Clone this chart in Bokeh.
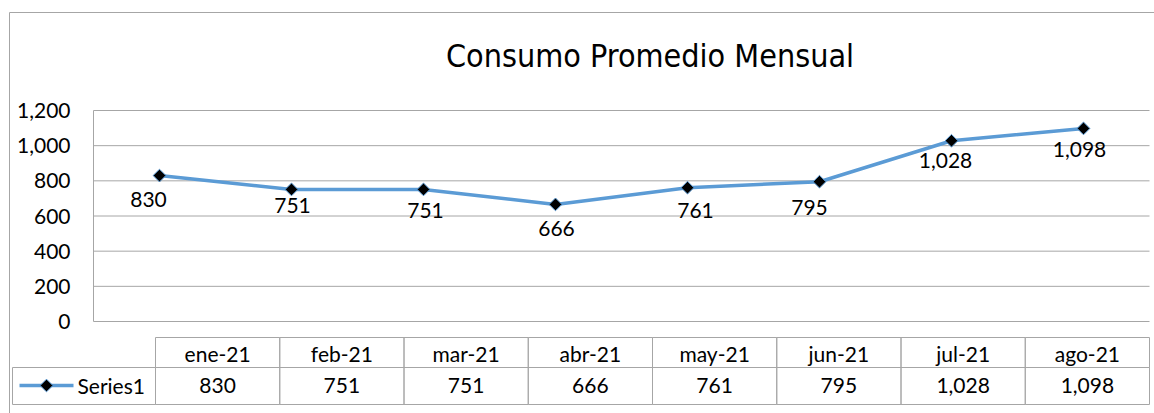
import numpy as np
from bokeh.plotting import figure
from bokeh.models import Range1d
from bokeh.core.properties import value
from bokeh.embed import file_html
from bokeh.resources import INLINE

# ---------------- data ----------------
months = ["ene-21", "feb-21", "mar-21", "abr-21", "may-21", "jun-21", "jul-21", "ago-21"]
values = [830, 751, 751, 666, 761, 795, 1028, 1098]
y_ticks = [0, 200, 400, 600, 800, 1000, 1200]
series_name = "Series1"
title_text = "Consumo Promedio Mensual"

# label placement (styling offsets in px, as moved in the original)
label_dx = [-11, 1, 2, 1, 8, -10, -6, -4]
label_dy = [24, 16, 21, 24, 23, 26, 20, 21]

# ---------------- layout (pixels) ----------------
W, H = 1154, 413
PA_L, PA_R, PA_T, PA_B = 93, 1149, 110, 321     # plot area
YMAX = 1200
N = len(months)

LINE_BLUE = "#5B9BD5"
GRID = "#A6A6A6"
FONT = value("Lato")
FS = value("21px")


def fx(px):
    return -0.5 + (px - PA_L) / (PA_R - PA_L) * N


def fy(py):
    return (PA_B - py) / (PA_B - PA_T) * YMAX


p = figure(width=W, height=H, x_range=Range1d(fx(0), fx(W)), y_range=Range1d(fy(H), fy(0)),
           output_backend="svg", toolbar_location=None, x_axis_location=None, y_axis_location=None,
           min_border=0)
p.outline_line_color = None
p.background_fill_color = "white"
p.border_fill_color = "white"
p.grid.visible = False

# outer chart border
p.quad(left=[fx(9)], right=[fx(1170)], top=[fy(12)], bottom=[fy(430)],
       fill_alpha=0, line_color=GRID, line_width=1)

# horizontal gridlines at tick values + left axis line
p.segment(x0=[fx(PA_L)] * len(y_ticks), x1=[fx(PA_R)] * len(y_ticks), y0=y_ticks, y1=y_ticks,
          line_color=GRID, line_width=1)
p.segment(x0=[fx(PA_L)], x1=[fx(PA_L)], y0=[y_ticks[0]], y1=[y_ticks[-1]],
          line_color=GRID, line_width=1)

# y tick labels
p.text(x=[fx(70)] * len(y_ticks), y=y_ticks, text=[f"{t:,}" for t in y_ticks],
       text_align="right", text_baseline="middle", text_font=FONT, text_font_size=FS,
       text_color="black")

# title
p.text(x=[fx(649.5)], y=[fy(55)], text=[title_text], text_align="center",
       text_baseline="middle", text_font=value("DejaVu Sans Condensed"),
       text_font_size=value("32px"), text_color="black")

# series
xs = list(range(N))
p.line(xs, values, line_color=LINE_BLUE, line_width=3.5)
p.scatter(xs, values, marker="square", angle=np.pi / 4, size=9,
          fill_color="black", line_color=LINE_BLUE, line_width=1)

# data labels
k_px = YMAX / (PA_B - PA_T)
p.text(x=xs, y=[v - d * k_px for v, d in zip(values, label_dy)],
       x_offset=label_dx, text=[f"{v:,}" for v in values],
       text_align="center", text_baseline="middle", text_font=FONT, text_font_size=FS,
       text_color="black")

# data table
tbl_left, tbl_right = 155, 1149
col_w = (tbl_right - tbl_left) / N
row_top, row_mid, row_bot = 337, 367, 404
leg_left = 12

lefts = [fx(tbl_left + k * col_w) for k in range(N)]
rights = [fx(tbl_left + (k + 1) * col_w) for k in range(N)]
centers = [fx(tbl_left + (k + 0.5) * col_w) for k in range(N)]
p.quad(left=lefts, right=rights, top=[fy(row_top)] * N, bottom=[fy(row_mid)] * N,
       fill_alpha=0, line_color=GRID, line_width=1)
p.quad(left=[fx(leg_left)] + lefts, right=[fx(tbl_left)] + rights,
       top=[fy(row_mid)] * (N + 1), bottom=[fy(row_bot)] * (N + 1),
       fill_alpha=0, line_color=GRID, line_width=1)

p.text(x=centers, y=[fy(352.5)] * N, text=months, text_align="center",
       text_baseline="middle", text_font=FONT, text_font_size=FS, text_color="black")
p.text(x=centers, y=[fy(385)] * N, text=[f"{v:,}" for v in values], text_align="center",
       text_baseline="middle", text_font=FONT, text_font_size=FS, text_color="black")

# legend key inside the table
p.segment(x0=[fx(19)], x1=[fx(73)], y0=[fy(385)], y1=[fy(385)], line_color=LINE_BLUE, line_width=3.5)
p.scatter([fx(46)], [fy(385)], marker="square", angle=np.pi / 4, size=9,
          fill_color="black", line_color=LINE_BLUE, line_width=1)
p.text(x=[fx(77)], y=[fy(385)], text=[series_name], text_align="left",
       text_baseline="middle", text_font=FONT, text_font_size=FS, text_color="black")

open("out.html", "w").write(file_html(p, INLINE))
